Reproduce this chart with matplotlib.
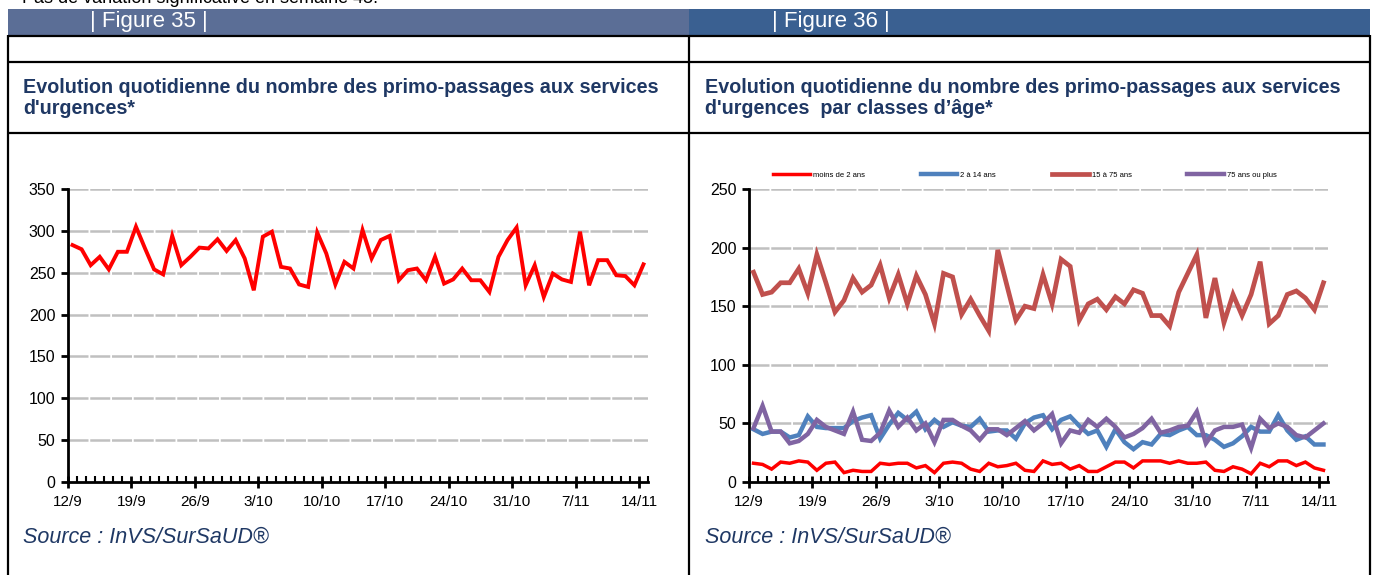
import matplotlib
matplotlib.use("Agg")
import matplotlib.pyplot as plt
from matplotlib import font_manager
from matplotlib.lines import Line2D
from matplotlib.patches import Rectangle
from matplotlib.ticker import FixedLocator, MultipleLocator

# ---- data -------------------------------------------------------------
week_labels = ["12/9", "19/9", "26/9", "3/10", "10/10", "17/10",
               "24/10", "31/10", "7/11", "14/11"]

total_passages = [
    283, 278, 259, 269, 254, 275, 275, 305, 279, 254, 248, 294, 259, 269, 280, 279,
    290, 276, 289, 267, 229, 293, 299, 257, 255, 236, 233, 298, 273, 236, 263, 255,
    301, 267, 289, 294, 241, 253, 255, 241, 269, 237, 242, 255, 241, 241, 227, 269,
    289, 304, 235, 259, 221, 249, 242, 239, 299, 235, 265, 265, 247, 246, 235, 260,
]

age_labels = ["moins de 2 ans", "2 à 14 ans", "15 à 75 ans", "75 ans ou plus"]

age_under2 = [
    16, 15, 11, 17, 16, 18, 17, 10, 16, 17, 8, 10, 9, 9, 16, 15,
    16, 16, 12, 14, 8, 16, 17, 16, 11, 9, 16, 13, 14, 16, 10, 9,
    18, 15, 16, 11, 14, 9, 9, 13, 17, 17, 12, 18, 18, 18, 16, 18,
    16, 16, 17, 10, 9, 13, 11, 7, 16, 13, 18, 18, 14, 17, 12, 10,
]
age_2_14 = [
    45, 41, 43, 43, 38, 40, 56, 47, 46, 46, 46, 52, 55, 57, 37, 49,
    59, 53, 60, 45, 53, 47, 51, 48, 47, 54, 43, 44, 44, 37, 50, 55,
    57, 45, 53, 56, 48, 41, 44, 30, 45, 34, 28, 34, 32, 41, 40, 44,
    47, 40, 40, 36, 30, 33, 39, 47, 43, 43, 57, 44, 36, 39, 32, 32,
]
age_15_75 = [
    179, 160, 162, 170, 170, 182, 161, 194, 170, 145, 155, 174, 162, 168, 185, 157,
    177, 152, 176, 160, 135, 178, 175, 143, 156, 142, 129, 198, 168, 138, 150, 148,
    177, 152, 190, 184, 138, 152, 156, 147, 158, 152, 164, 161, 142, 142, 133, 162,
    178, 194, 140, 174, 136, 160, 142, 160, 188, 135, 142, 160, 163, 157, 147, 170,
]
age_75_plus = [
    46, 65, 43, 43, 33, 35, 41, 53, 47, 44, 41, 60, 36, 35, 42, 61,
    47, 55, 44, 50, 34, 53, 53, 48, 44, 36, 45, 45, 40, 46, 52, 44,
    50, 58, 33, 44, 42, 53, 47, 54, 47, 38, 41, 46, 54, 42, 44, 47,
    48, 60, 33, 44, 47, 47, 49, 29, 54, 46, 50, 47, 40, 38, 44, 50,
]

age_colors = ["#FF0000", "#4F81BD", "#C0504D", "#8064A2"]
age_widths = [2.5, 3.2, 3.4, 3.2]

# ---- fonts --------------------------------------------------------------
installed = {f.name for f in font_manager.fontManager.ttflist}
base_font = "Liberation Sans" if "Liberation Sans" in installed else "DejaVu Sans"
plt.rcParams["font.family"] = [base_font, "DejaVu Sans"]

W, H = 1374, 575
fig = plt.figure(figsize=(W / 100, H / 100), dpi=100)
fig.patch.set_facecolor("white")


def fx(x):
    return x / W


def fy(y):
    return 1 - y / H


navy = "#1F3864"

# ---- page frame ---------------------------------------------------------
fig.text(fx(22), fy(3), "Pas de variation significative en semaine 45.",
         fontsize=13, color="black", ha="left", va="baseline")

fig.add_artist(Rectangle((fx(8), fy(35)), fx(681), 26 / H,
                         transform=fig.transFigure, facecolor="#5B6E96",
                         edgecolor="none"))
fig.add_artist(Rectangle((fx(689), fy(35)), fx(681), 26 / H,
                         transform=fig.transFigure, facecolor="#3A6091",
                         edgecolor="none"))
fig.text(fx(90), fy(22), "| Figure 35 |", color="white", fontsize=16,
         ha="left", va="center")
fig.text(fx(772), fy(22), "| Figure 36 |", color="white", fontsize=16,
         ha="left", va="center")

frame_kw = dict(transform=fig.transFigure, color="black", lw=1.6,
                solid_capstyle="butt")
for yy in (36, 62, 133):
    fig.add_artist(Line2D([fx(8), fx(1370)], [fy(yy), fy(yy)], **frame_kw))
for xx in (8, 689, 1370):
    fig.add_artist(Line2D([fx(xx), fx(xx)], [fy(35), fy(575)], **frame_kw))

title_lines = [
    ("Evolution quotidienne du nombre des primo-passages aux services",
     "d'urgences*"),
    ("Evolution quotidienne du nombre des primo-passages aux services",
     "d'urgences  par classes d\u2019\u00e2ge*"),
]
for x0, (l1, l2) in zip((23, 705), title_lines):
    fig.text(fx(x0), fy(93), l1, fontsize=14.2, fontweight="bold", color=navy,
             ha="left", va="baseline")
    fig.text(fx(x0), fy(114), l2, fontsize=14.2, fontweight="bold", color=navy,
             ha="left", va="baseline")
    fig.text(fx(x0), fy(537), "Source : InVS/SurSaUD\u00ae", fontsize=15.5,
             style="italic", color=navy, ha="left", va="center")

# ---- chart axes ---------------------------------------------------------
ax_bottom, ax_top = 482, 189


def style_axis(ax, ymax, ystep, ndays):
    ax.set_xlim(-0.5, ndays - 0.5)
    ax.set_ylim(0, ymax)
    ax.set_yticks(range(0, ymax + 1, ystep))
    for v in range(ystep, ymax + 1, ystep):
        ax.axhline(v, color="#C0C0C0", lw=1.8, ls=(0, (8, 0.7)), zorder=0)
    for s in ("top", "right"):
        ax.spines[s].set_visible(False)
    for s in ("left", "bottom"):
        ax.spines[s].set_linewidth(2.0)
        ax.spines[s].set_color("black")
    major = [-0.5 + 7 * k for k in range(len(week_labels))]
    ax.xaxis.set_major_locator(FixedLocator(major))
    ax.set_xticklabels(week_labels)
    ax.xaxis.set_minor_locator(MultipleLocator(1, offset=0.5))
    ax.tick_params(axis="x", which="major", direction="inout", length=8,
                   width=2.0, labelsize=11, pad=5)
    ax.tick_params(axis="x", which="minor", direction="in", length=4,
                   width=1.5)
    ax.tick_params(axis="y", which="major", direction="out", length=5,
                   width=2.0, labelsize=11.5, pad=4)
    ax.set_facecolor("none")


def add_axes(left, right):
    return fig.add_axes([fx(left), fy(ax_bottom), (right - left) / W,
                         (ax_bottom - ax_top) / H])


ax1 = add_axes(68, 648)
days1 = list(range(len(total_passages)))
ax1.plot(days1, total_passages, color="#FF0000", lw=2.8,
         solid_joinstyle="miter", zorder=3)
style_axis(ax1, 350, 50, len(total_passages))

ax2 = add_axes(749, 1328)
series = [age_under2, age_2_14, age_15_75, age_75_plus]
for vals, lab, col, lw in zip(series, age_labels, age_colors, age_widths):
    ax2.plot(list(range(len(vals))), vals, color=col, lw=lw, label=lab,
             solid_joinstyle="miter", zorder=3)
style_axis(ax2, 250, 50, len(age_under2))
ax2.legend(loc="center left",
           bbox_to_anchor=((773 - 749) / (1328 - 749) - 0.005,
                           (ax_bottom - 175) / (ax_bottom - ax_top)),
           ncol=4, frameon=False, fontsize=5.5, handlelength=4.8,
           handletextpad=0.4, columnspacing=7.3, borderaxespad=0)

fig.savefig("out.png", dpi=100, facecolor="white")
